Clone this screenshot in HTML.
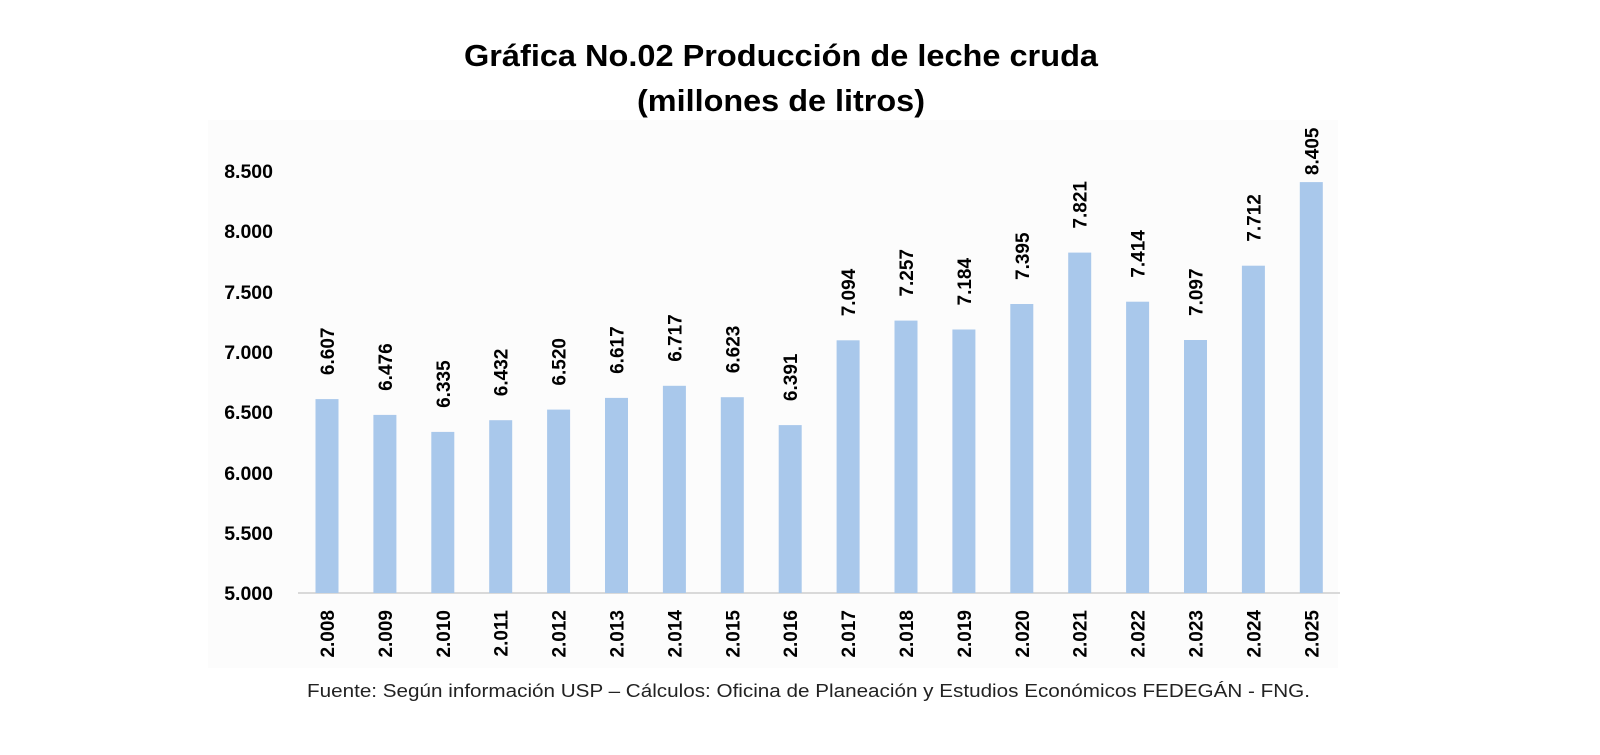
<!DOCTYPE html>
<html><head><meta charset="utf-8"><style>
html,body{margin:0;padding:0;background:#fff;}
svg{display:block;font-family:"Liberation Sans",Arial,sans-serif;}
</style></head><body>
<svg width="1600" height="755" viewBox="0 0 1600 755" xmlns="http://www.w3.org/2000/svg">
<rect x="0" y="0" width="1600" height="755" fill="#fff"/>
<rect x="208" y="120" width="1130" height="548" fill="#fcfcfc"/>
<text x="781" y="66" font-size="31" font-weight="bold" text-anchor="middle" textLength="634" lengthAdjust="spacingAndGlyphs">Gráfica No.02 Producción de leche cruda</text>
<text x="781" y="111" font-size="31" font-weight="bold" text-anchor="middle" textLength="288" lengthAdjust="spacingAndGlyphs">(millones de litros)</text>
<g font-size="19.5" font-weight="bold" text-anchor="end">
<text x="273" y="600">5.000</text>
<text x="273" y="540">5.500</text>
<text x="273" y="480">6.000</text>
<text x="273" y="419">6.500</text>
<text x="273" y="359">7.000</text>
<text x="273" y="299">7.500</text>
<text x="273" y="238">8.000</text>
<text x="273" y="178">8.500</text>
</g>
<line x1="298" y1="593" x2="1340" y2="593" stroke="#d9d9d9" stroke-width="2"/>
<g fill="#a9c8eb">
<rect x="315.5" y="399.1" width="23" height="193.9"/>
<rect x="373.4" y="414.9" width="23" height="178.1"/>
<rect x="431.3" y="431.9" width="23" height="161.1"/>
<rect x="489.2" y="420.2" width="23" height="172.8"/>
<rect x="547.1" y="409.6" width="23" height="183.4"/>
<rect x="605" y="397.9" width="23" height="195.1"/>
<rect x="662.9" y="385.8" width="23" height="207.2"/>
<rect x="720.8" y="397.2" width="23" height="195.8"/>
<rect x="778.7" y="425.1" width="23" height="167.9"/>
<rect x="836.6" y="340.3" width="23" height="252.7"/>
<rect x="894.5" y="320.6" width="23" height="272.4"/>
<rect x="952.4" y="329.5" width="23" height="263.5"/>
<rect x="1010.3" y="304" width="23" height="289"/>
<rect x="1068.2" y="252.6" width="23" height="340.4"/>
<rect x="1126.1" y="301.7" width="23" height="291.3"/>
<rect x="1184" y="340" width="23" height="253"/>
<rect x="1241.9" y="265.7" width="23" height="327.3"/>
<rect x="1299.8" y="182.1" width="23" height="410.9"/>
</g>
<g font-size="19" font-weight="bold">
<text transform="translate(334,375.1) rotate(-90)">6.607</text>
<text transform="translate(391.9,390.9) rotate(-90)">6.476</text>
<text transform="translate(449.8,407.9) rotate(-90)">6.335</text>
<text transform="translate(507.7,396.2) rotate(-90)">6.432</text>
<text transform="translate(565.6,385.6) rotate(-90)">6.520</text>
<text transform="translate(623.5,373.9) rotate(-90)">6.617</text>
<text transform="translate(681.4,361.8) rotate(-90)">6.717</text>
<text transform="translate(739.3,373.2) rotate(-90)">6.623</text>
<text transform="translate(797.2,401.1) rotate(-90)">6.391</text>
<text transform="translate(855.1,316.3) rotate(-90)">7.094</text>
<text transform="translate(913,296.6) rotate(-90)">7.257</text>
<text transform="translate(970.9,305.5) rotate(-90)">7.184</text>
<text transform="translate(1028.8,280) rotate(-90)">7.395</text>
<text transform="translate(1086.7,228.6) rotate(-90)">7.821</text>
<text transform="translate(1144.6,277.7) rotate(-90)">7.414</text>
<text transform="translate(1202.5,316) rotate(-90)">7.097</text>
<text transform="translate(1260.4,241.7) rotate(-90)">7.712</text>
<text transform="translate(1318.3,175.1) rotate(-90)">8.405</text>
</g>
<g font-size="19" font-weight="bold" text-anchor="end">
<text transform="translate(334,610) rotate(-90)">2.008</text>
<text transform="translate(391.9,610) rotate(-90)">2.009</text>
<text transform="translate(449.8,610) rotate(-90)">2.010</text>
<text transform="translate(507.7,610) rotate(-90)">2.011</text>
<text transform="translate(565.6,610) rotate(-90)">2.012</text>
<text transform="translate(623.5,610) rotate(-90)">2.013</text>
<text transform="translate(681.4,610) rotate(-90)">2.014</text>
<text transform="translate(739.3,610) rotate(-90)">2.015</text>
<text transform="translate(797.2,610) rotate(-90)">2.016</text>
<text transform="translate(855.1,610) rotate(-90)">2.017</text>
<text transform="translate(913,610) rotate(-90)">2.018</text>
<text transform="translate(970.9,610) rotate(-90)">2.019</text>
<text transform="translate(1028.8,610) rotate(-90)">2.020</text>
<text transform="translate(1086.7,610) rotate(-90)">2.021</text>
<text transform="translate(1144.6,610) rotate(-90)">2.022</text>
<text transform="translate(1202.5,610) rotate(-90)">2.023</text>
<text transform="translate(1260.4,610) rotate(-90)">2.024</text>
<text transform="translate(1318.3,610) rotate(-90)">2.025</text>
</g>
<text x="307" y="697" font-size="18" fill="#222" textLength="1003" lengthAdjust="spacingAndGlyphs">Fuente: Según información USP – Cálculos: Oficina de Planeación y Estudios Económicos FEDEGÁN - FNG.</text>
</svg>
</body></html>
